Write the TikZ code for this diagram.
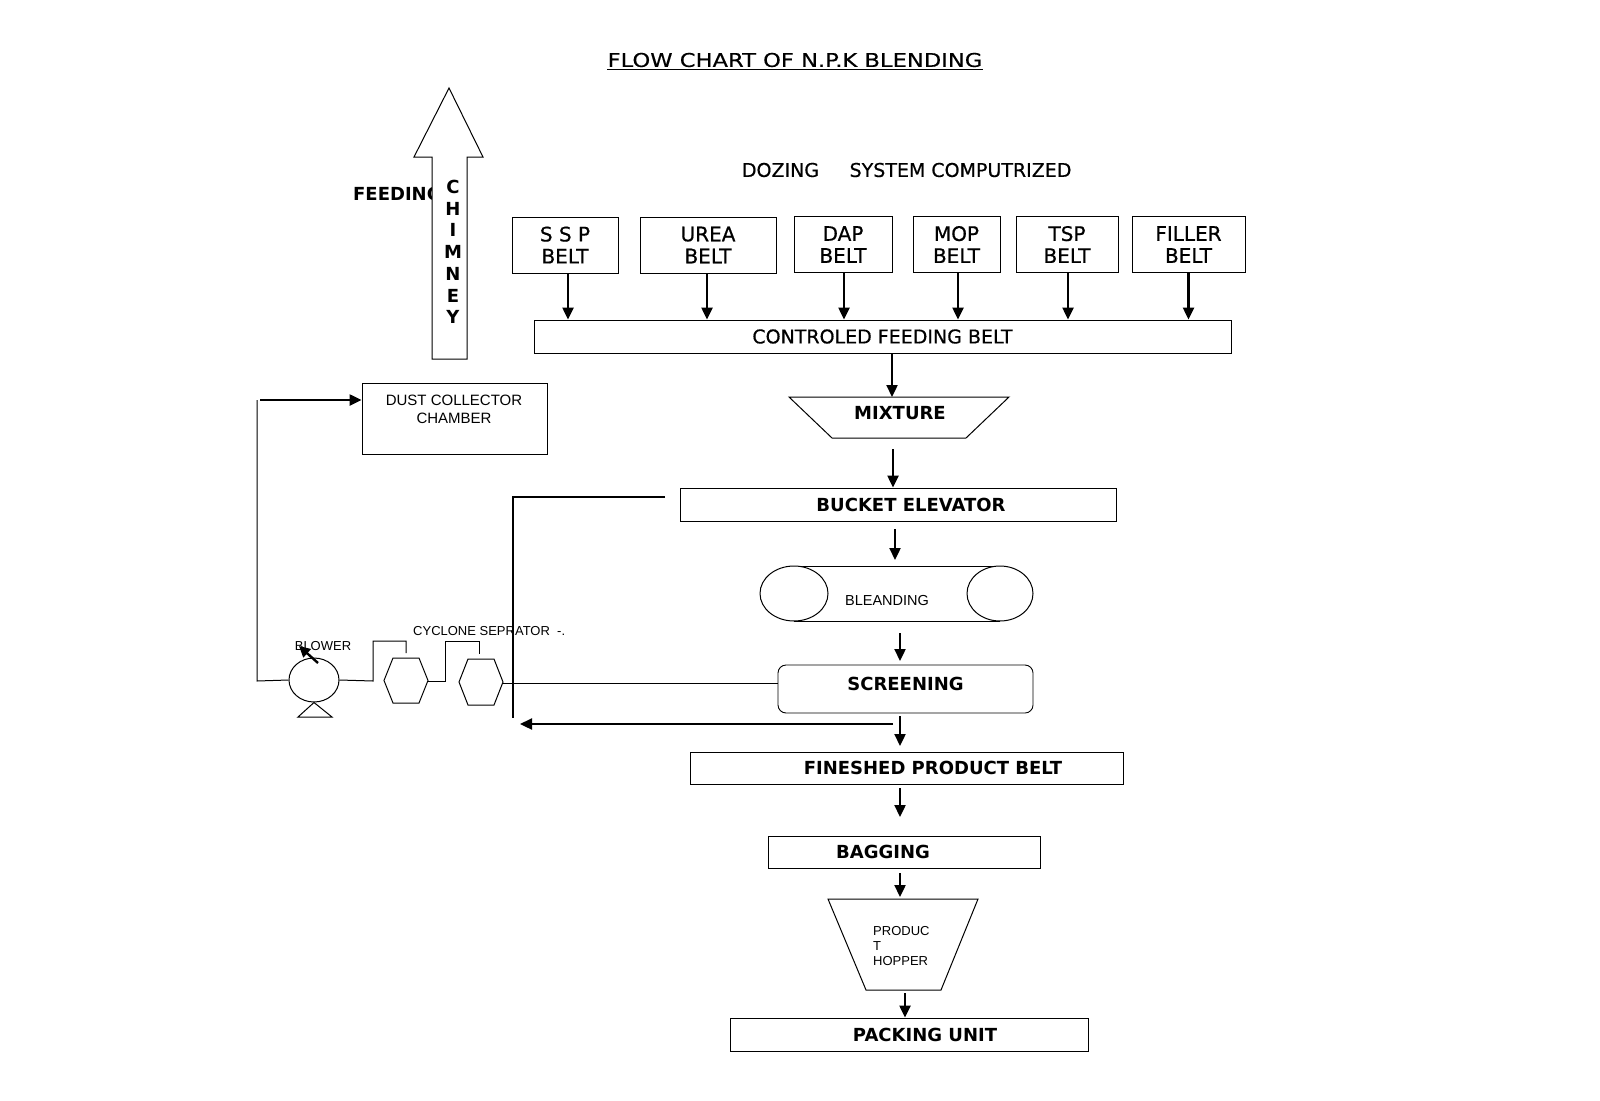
\documentclass[tikz,border=0pt]{standalone}
\usepackage{fontspec}
\setmainfont{DejaVu Sans}
\newfontfamily\thinf{Liberation Sans}
\newfontfamily\medf[FakeBold=0.6]{DejaVu Sans}
\newfontfamily\titlef[FakeStretch=1.19,FakeBold=0.4]{DejaVu Sans}
\usetikzlibrary{arrows.meta,calc,shapes.geometric}
\begin{document}
\begin{tikzpicture}[x=1pt,y=-1pt,
  box/.style={draw, line width=0.9pt, inner sep=0pt},
  arr/.style={line width=2.3pt, -{Triangle[width=11pt,length=12pt]}},
  ln/.style={line width=1pt},
  bl/.style={font=\fontsize{18}{20}\selectfont\bfseries, inner sep=0pt},
  reg/.style={font=\medf\fontsize{19}{21}\selectfont, inner sep=0pt},
  belt/.style={box, minimum height=56pt, align=center, font=\medf\fontsize{20}{22}\selectfont},
  thin/.style={font=\thinf\fontsize{13}{15}\selectfont, inner sep=0pt}]
\fill[white] (0,0) rectangle (1600,1100);
\useasboundingbox (0,0) rectangle (1600,1100);

% title
\node[font=\titlef\fontsize{19}{21}\selectfont, inner sep=0pt] (title) at (795,60) {FLOW CHART OF N.P.K BLENDING};
\draw[line width=1.3pt] ([yshift=-2.5pt]title.base west) -- ([yshift=-2.5pt]title.base east);

\node[reg] (doz) at (780.5,170) {DOZING};
\node[reg] (sys) at (960.5,170) {SYSTEM COMPUTRIZED};

% feeding + chimney
\node[anchor=west, font=\fontsize{18}{18}\selectfont\bfseries, inner sep=0pt] (feed) at (353,194) {FEEDING};
\draw[line width=1pt, fill=white] (432,359) -- (432,157) -- (414,157) -- (449,88) -- (483,157) -- (467,157) -- (467,359) -- cycle;
\foreach \l [count=\i] in {C,H,I,M,N,E,Y}
  \node[font=\fontsize{18}{18}\selectfont\bfseries, inner sep=0pt] (ch\i) at (453,{187+21.7*(\i-1)}) {\l};

% belts
\node[belt, minimum width=106pt] (ssp) at (565,245) {S S P\\BELT};
\node[belt, minimum width=136pt] (urea) at (708,245) {UREA\\BELT};
\node[belt, minimum width=98pt] (dap) at (843,244.5) {DAP\\BELT};
\node[belt, minimum width=87pt] (mop) at (956.5,244.5) {MOP\\BELT};
\node[belt, minimum width=102pt] (tsp) at (1067,244.5) {TSP\\BELT};
\node[belt, minimum width=113pt] (fil) at (1188.5,244.5) {FILLER\\BELT};

\node[box, minimum width=697pt, minimum height=33pt, font=\medf\fontsize{19}{21}\selectfont] (cfb) at (882.5,336.5) {CONTROLED FEEDING BELT};

\foreach \n/\dx in {ssp/3,urea/-1,dap/1,mop/1.5,tsp/1,fil/0}
  \draw[arr] ([xshift=\dx pt]\n.south) -- ([xshift=\dx pt]\n.south |- cfb.north);

% mixture
\draw[ln] (789,397) -- (1009,397) -- (966,438) -- (832,438) -- cycle;
\node[bl] (mix) at (900,413) {MIXTURE};
\coordinate (m1) at (892,397);
\draw[arr] (cfb.south -| m1) -- (m1);

% bucket elevator
\node[box, minimum width=436pt, minimum height=33pt] (be) at (898,504.5) {};
\node[bl] (bet) at (911,504.5) {BUCKET ELEVATOR};
\coordinate (a2s) at (893,449);
\draw[arr] (a2s) -- (a2s |- be.north) ;

% blending
\coordinate (a3s) at (895,529);
\coordinate (a3e) at (895,560);
\draw[arr] (a3s) -- (a3e);
\draw[ln] (794,566) -- (1000,566);
\draw[ln] (794,621) -- (1000,621);
\draw[ln, fill=white] (794,593.5) ellipse [x radius=34, y radius=27.5];
\draw[ln, fill=white] (1000,593.5) ellipse [x radius=33, y radius=27.5];
\node[thin, font=\thinf\fontsize{14.5}{16}\selectfont] (blt) at (887,601) {BLEANDING};

% screening
\coordinate (a4s) at (900,633);
\coordinate (a4e) at (900,661);
\draw[arr] (a4s) -- (a4e);
\node[box, rounded corners=8pt, minimum width=255pt, minimum height=48pt] (scr) at (905.5,689) {};
\node[bl] (scrt) at (905.5,684) {SCREENING};

% finished product belt
\coordinate (a5s) at (900,716);
\coordinate (a5e) at (900,746);
\draw[arr] (a5s) -- (a5e);
\node[box, minimum width=433pt, minimum height=32pt] (fpb) at (906.5,768) {};
\node[bl] (fpbt) at (933,768) {FINESHED PRODUCT BELT};

% bagging
\coordinate (a6s) at (900,788);
\coordinate (a6e) at (900,817);
\draw[arr] (a6s) -- (a6e);
\node[box, minimum width=272pt, minimum height=32pt] (bag) at (904,852) {};
\node[bl] (bagt) at (883,852) {BAGGING};

% hopper
\coordinate (a7s) at (900,873);
\coordinate (a7e) at (900,897);
\draw[arr] (a7s) -- (a7e);
\draw[ln] (828,899) -- (978,899) -- (941,990) -- (866,990) -- cycle;
\node[thin, anchor=north west, align=left] (hop) at (873,926) {PRODUC\\T\\HOPPER};

% packing unit
\coordinate (a8s) at (905,993);
\node[box, minimum width=358pt, minimum height=33pt] (pack) at (909,1034.5) {};
\node[bl] (packt) at (925,1034.5) {PACKING UNIT};
\draw[arr] (a8s) -- (a8s |- pack.north);

% left side: dust collector
\node[box, minimum width=185pt, minimum height=71pt] (dc) at (454.5,418.5) {};
\node[thin, font=\thinf\fontsize{15}{18}\selectfont, align=center] (dct) at (454,409) {DUST COLLECTOR\\CHAMBER};
\coordinate (lt) at (257,400);
\coordinate (lb) at (257,681);
\draw[arr] ([xshift=3pt]lt) -- (dc.west |- lt);

% blower
\node[ellipse, draw, line width=1pt, minimum width=50pt, minimum height=44pt, inner sep=0pt] (blw) at (314,680) {};
\draw[ln] (lt) -- (lb) -- (blw.west);
\draw[ln] (blw.south) -- (332,717) -- (298,717) -- cycle;
\node[thin] (blwt) at (323,646) {BLOWER};
\coordinate (ba1) at (318,663);
\coordinate (ba2) at (299,646);
\draw[line width=2.4pt, -{Triangle[width=11pt,length=11pt]}] (ba1) -- (ba2);

% cyclones
\draw[ln] (384,680.5) -- (393,658) -- (419,658) -- (428,680.5) -- (419,703) -- (393,703) -- cycle;
\draw[ln] (459,682) -- (468,659) -- (494,659) -- (503,682) -- (494,705) -- (468,705) -- cycle;
\coordinate (h1e) at (428,681);
\coordinate (h2e) at (503,683);
\draw[ln] (blw.east) -- (373,681) -- (373,641) -- (406,641) -- (406,653);
\draw[ln] (h1e) -- (445,681) -- (445,641) -- (479,641) -- (479,654);
\draw[ln] (h2e) -- (h2e -| scr.west);
\node[thin, anchor=west] (cyc) at (413,631) {CYCLONE SEPRATOR\ \ -.};

% feedback lines
\coordinate (fb1) at (665,497);
\coordinate (fb2) at (513,497);
\coordinate (fb3) at (513,718);
\draw[line width=1.2pt] (fb1) -- (fb2) -- (fb3);
\coordinate (ra1) at (893,724);
\coordinate (ra2) at (520,724);
\draw[arr] (ra1) -- (ra2);
\end{tikzpicture}
\end{document}
